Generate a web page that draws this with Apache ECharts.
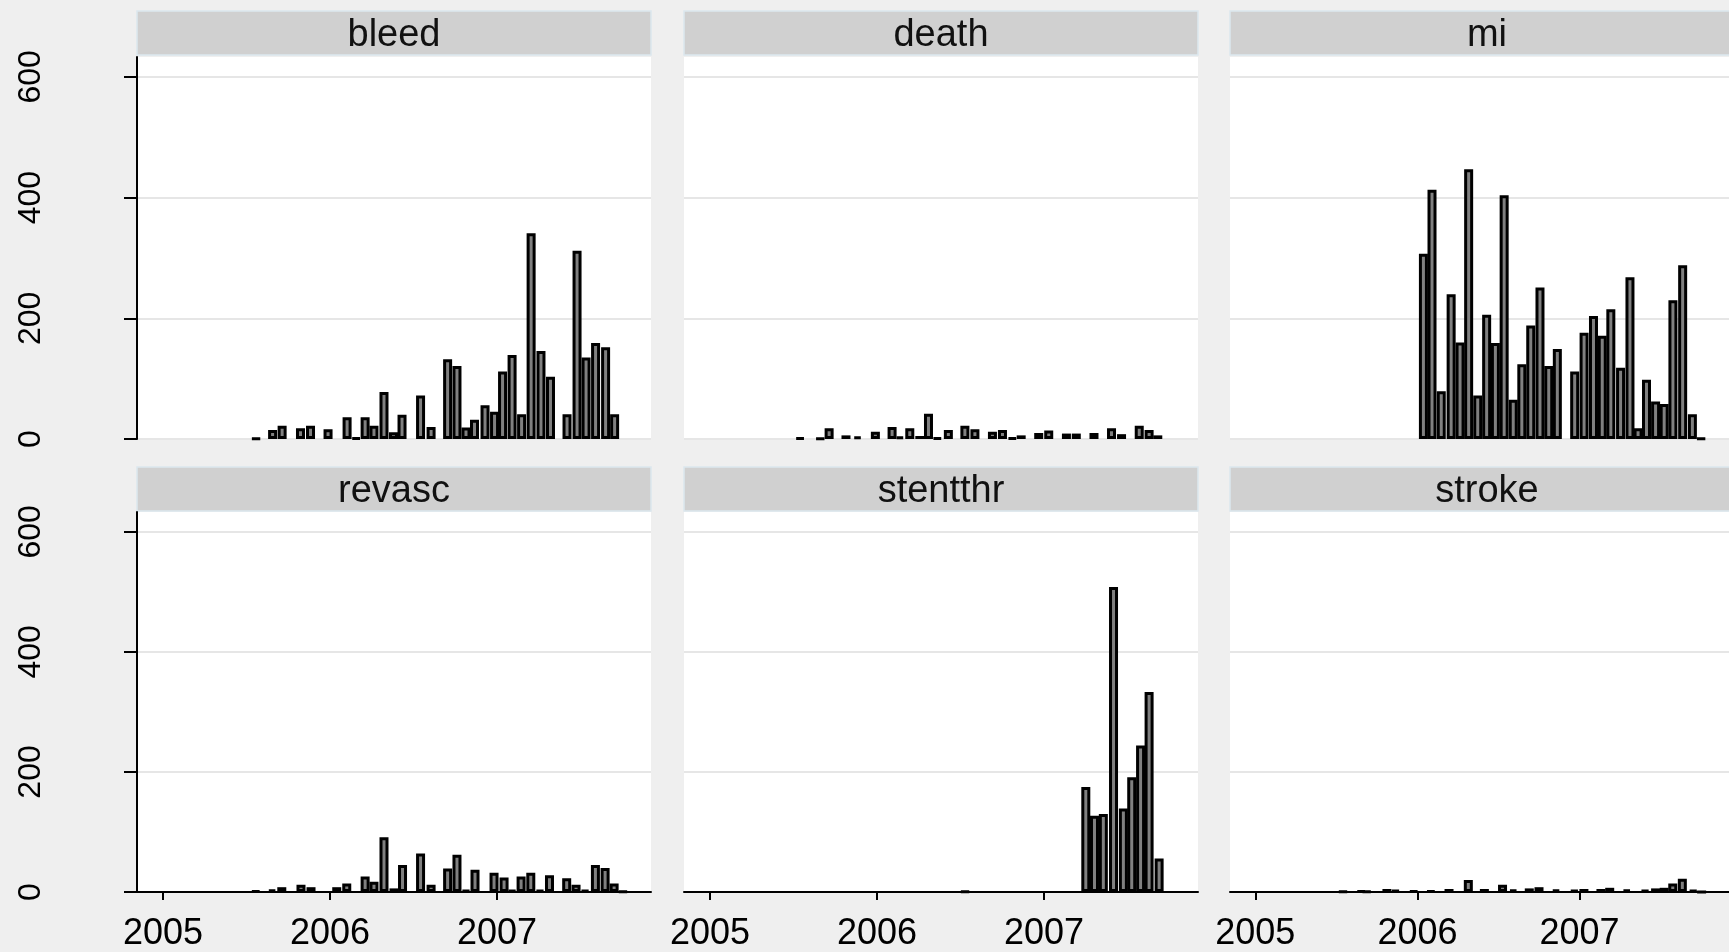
<!DOCTYPE html>
<html><head><meta charset="utf-8">
<script src="https://cdn.jsdelivr.net/npm/echarts@6/dist/echarts.min.js"></script>
<style>html,body{margin:0;padding:0;background:#efefef;}#c{width:1729px;height:952px;}</style>
</head><body><div id="c"></div>
<script>
// ---- data (x = fractional year, y = count) ----
const panelNames = ['bleed', 'death', 'mi', 'revasc', 'stentthr', 'stroke'];
const yTicks = [0, 200, 400, 600];
const xTicks = [2005, 2006, 2007];

const bleedDates = [2005.557, 2005.656, 2005.713, 2005.823, 2005.883, 2005.988, 2006.102, 2006.156, 2006.210, 2006.263, 2006.323, 2006.380, 2006.431, 2006.542, 2006.605, 2006.704, 2006.760, 2006.814, 2006.865, 2006.928, 2006.985, 2007.033, 2007.090, 2007.147, 2007.204, 2007.263, 2007.320, 2007.419, 2007.479, 2007.533, 2007.590, 2007.650, 2007.704];
const bleedCounts = [1, 15, 22, 18, 22, 16, 36, 2, 36, 22, 78, 11, 40, 72, 20, 132, 121, 19, 32, 56, 45, 112, 139, 41, 341, 146, 103, 41, 312, 135, 159, 152, 41];

const deathDates = [2005.539, 2005.660, 2005.713, 2005.814, 2005.883, 2005.990, 2006.090, 2006.137, 2006.196, 2006.256, 2006.308, 2006.361, 2006.427, 2006.526, 2006.586, 2006.691, 2006.751, 2006.810, 2006.863, 2006.968, 2007.028, 2007.134, 2007.193, 2007.299, 2007.404, 2007.464, 2007.570, 2007.629, 2007.681];
const deathCounts = [2, 1, 18, 6, 4, 12, 20, 4, 18, 5, 42, 2, 15, 22, 16, 12, 15, 2, 6, 10, 14, 9, 9, 10, 18, 8, 22, 15, 6];

const miDates = [2006.037, 2006.090, 2006.147, 2006.208, 2006.263, 2006.316, 2006.372, 2006.427, 2006.481, 2006.535, 2006.591, 2006.644, 2006.699, 2006.756, 2006.810, 2006.863, 2006.970, 2007.028, 2007.086, 2007.140, 2007.193, 2007.253, 2007.311, 2007.361, 2007.413, 2007.469, 2007.522, 2007.576, 2007.636, 2007.696, 2007.750];
const miCounts = [307, 413, 79, 240, 160, 447, 72, 206, 159, 404, 65, 124, 188, 251, 121, 149, 112, 176, 204, 171, 215, 118, 268, 18, 98, 62, 58, 230, 288, 41, 1];

const revascDates = [2005.555, 2005.653, 2005.711, 2005.826, 2005.886, 2006.040, 2006.100, 2006.210, 2006.263, 2006.323, 2006.383, 2006.434, 2006.542, 2006.605, 2006.704, 2006.760, 2006.814, 2006.868, 2006.982, 2007.042, 2007.090, 2007.144, 2007.202, 2007.257, 2007.314, 2007.417, 2007.473, 2007.527, 2007.589, 2007.647, 2007.701, 2007.754];
const revascCounts = [2, 4, 8, 12, 8, 8, 14, 26, 17, 91, 6, 45, 64, 12, 39, 62, 3, 37, 32, 24, 3, 26, 32, 3, 28, 23, 12, 3, 45, 40, 14, 1];

const stentthrDates = [2006.527, 2007.250, 2007.302, 2007.355, 2007.416, 2007.475, 2007.525, 2007.578, 2007.629, 2007.689];
const stentthrCounts = [1, 175, 127, 130, 508, 139, 191, 244, 333, 56];

const strokeDates = [2005.541, 2005.653, 2005.687, 2005.812, 2005.865, 2005.977, 2006.083, 2006.195, 2006.314, 2006.413, 2006.525, 2006.591, 2006.690, 2006.750, 2006.855, 2006.968, 2007.027, 2007.132, 2007.186, 2007.291, 2007.404, 2007.469, 2007.522, 2007.575, 2007.634, 2007.701, 2007.753];
const strokeCounts = [1, 2, 1, 5, 3, 2, 2, 5, 20, 5, 12, 4, 6, 8, 4, 3, 5, 5, 7, 4, 3, 6, 7, 14, 22, 3, 0];

const panelData = [
  [bleedDates, bleedCounts], [deathDates, deathCounts], [miDates, miCounts],
  [revascDates, revascCounts], [stentthrDates, stentthrCounts], [strokeDates, strokeCounts]
];

// ---- layout ----
const colLeft = [137, 684, 1230];
const rowTop = [57, 512];
const plotW = 514, plotH = 382;
const stripTop = [11, 467], stripH = 44;
const xMin = 2004.844, xMax = xMin + plotW / 167;
const yMax = 633;
const FONT = '"Liberation Sans", Arial, Helvetica, sans-serif';

const grids = [], xAxes = [], yAxes = [], series = [], graphics = [];
panelNames.forEach((name, i) => {
  const r = Math.floor(i / 3), c = i % 3;
  const bottomRow = r === 1, leftCol = c === 0;
  grids.push({ left: colLeft[c], top: rowTop[r], width: plotW, height: plotH, backgroundColor: '#ffffff', show: true, borderWidth: 0 });
  xAxes.push({
    type: 'value', gridIndex: i, min: xMin, max: xMax,
    axisLine: { show: bottomRow, onZero: false, lineStyle: { color: '#000', width: 2 } },
    axisTick: { show: bottomRow, customValues: xTicks, length: 8, lineStyle: { color: '#000', width: 2 } },
    axisLabel: { show: bottomRow, customValues: xTicks, formatter: v => String(Math.round(v)), fontSize: 36, color: '#000', fontFamily: FONT, margin: 24 },
    splitLine: { show: false }
  });
  yAxes.push({
    type: 'value', gridIndex: i, min: 0, max: yMax, interval: 200,
    axisLine: { show: leftCol, lineStyle: { color: '#000', width: 2 } },
    axisTick: { show: leftCol, customValues: yTicks, length: 13, lineStyle: { color: '#000', width: 2 } },
    axisLabel: { show: leftCol, customValues: yTicks, rotate: 90, margin: 90, fontSize: 32, color: '#000', fontFamily: FONT },
    splitLine: { show: true, lineStyle: { color: '#e6e6e6', width: 2 } }
  });
  const [dates, counts] = panelData[i];
  series.push({
    type: 'bar', xAxisIndex: i, yAxisIndex: i, barWidth: 9, animation: false,
    data: dates.map((d, k) => [d, counts[k]]),
    itemStyle: { color: '#808080', borderColor: '#000', borderWidth: 3 }
  });
  graphics.push({
    type: 'rect', shape: { x: colLeft[c], y: stripTop[r], width: plotW, height: stripH },
    style: { fill: '#d0d0d0', stroke: '#dbe7ee', lineWidth: 1.5 }
  });
  graphics.push({
    type: 'text', x: colLeft[c] + plotW / 2, y: stripTop[r] + stripH / 2 + 3,
    style: { text: name, fill: '#111', font: '38px ' + FONT, textAlign: 'center', textVerticalAlign: 'middle' }
  });
});

const chart = echarts.init(document.getElementById('c'), null, { renderer: 'canvas' });
chart.setOption({
  backgroundColor: '#efefef',
  animation: false,
  grid: grids, xAxis: xAxes, yAxis: yAxes, series: series, graphic: graphics
});
</script></body></html>
